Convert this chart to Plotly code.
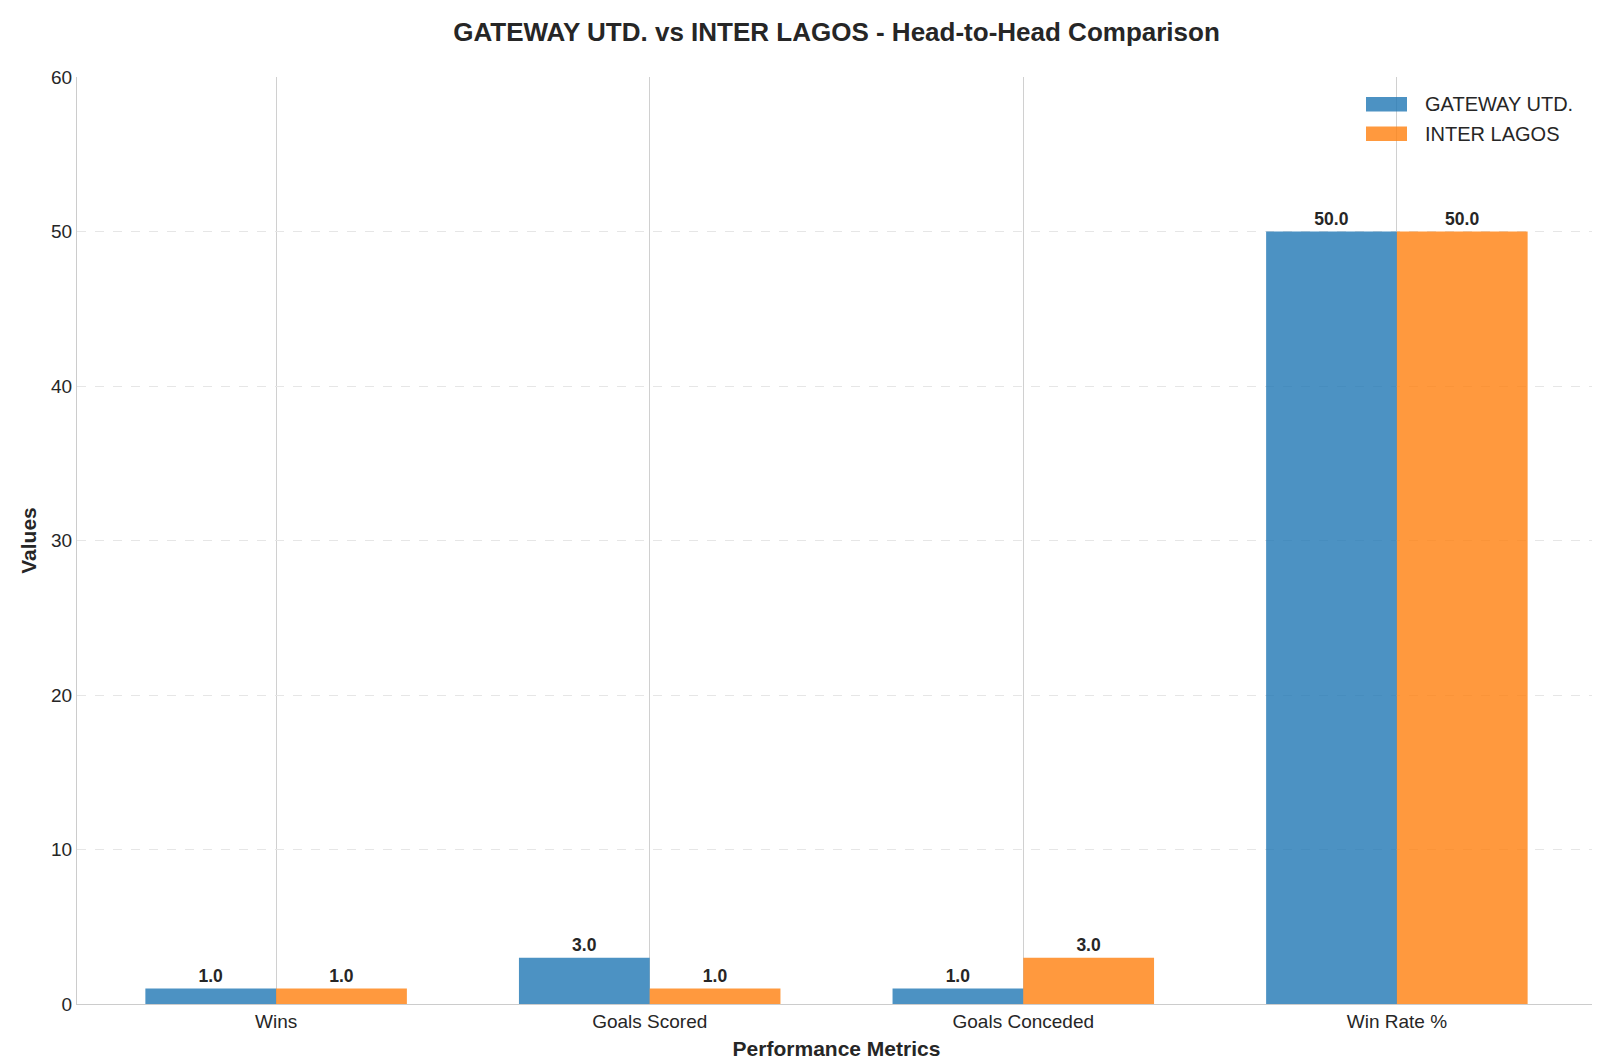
import plotly.graph_objects as go

# data
metrics = ["Wins", "Goals Scored", "Goals Conceded", "Win Rate %"]
gateway = [1.0, 3.0, 1.0, 50.0]
inter = [1.0, 1.0, 3.0, 50.0]
team_a, team_b = "GATEWAY UTD.", "INTER LAGOS"
colors = ["rgba(31,119,180,0.8)", "rgba(255,127,14,0.8)"]

FONT = "Liberation Sans, Arial, sans-serif"
BAR_W = 0.35
xs = list(range(len(metrics)))

# plot area in pixels (used to place the hand-made legend)
L, R, T, B = 69, 12, 69, 67
W, H = 1600, 1063
pw, ph = W - L - R, H - T - B

def px_x(p):
    return (p - L) / pw

def px_y(p):
    return (H - B - p) / ph

fig = go.Figure()
for vals, name, off, col in [(gateway, team_a, -BAR_W, colors[0]), (inter, team_b, 0, colors[1])]:
    fig.add_trace(go.Bar(
        x=xs, y=vals, name=name, width=BAR_W, offset=off,
        marker=dict(color=col, line=dict(width=0)),
        text=[f"{v:.1f}" for v in vals], textposition="outside",
        textfont=dict(family=FONT, size=17.5, color="#262626", weight="bold"),
        cliponaxis=False, showlegend=False,
    ))

# legend drawn by hand: wide rectangles like matplotlib
for i, (name, col) in enumerate([(team_a, colors[0]), (team_b, colors[1])]):
    y0 = 89 + i * 29.5
    fig.add_shape(type="rect", xref="paper", yref="paper",
                  x0=px_x(1358), x1=px_x(1399), y0=px_y(y0 + 14.5), y1=px_y(y0),
                  fillcolor=col, line=dict(width=0))
    fig.add_annotation(xref="paper", yref="paper", x=px_x(1415), y=px_y(y0 + 7),
                       xanchor="left", yanchor="middle", showarrow=False,
                       text=name, font=dict(size=20, color="#262626"))

fig.update_layout(
    width=W, height=H,
    paper_bgcolor="white", plot_bgcolor="white",
    font=dict(family=FONT, size=19, color="#262626"),
    margin=dict(l=L, r=R, t=T, b=B),
    title=dict(text="<b>GATEWAY UTD. vs INTER LAGOS - Head-to-Head Comparison</b>",
               x=(L + pw / 2) / W, xanchor="center", y=1 - 24 / H, yanchor="middle",
               font=dict(size=26, color="#262626")),
    barmode="overlay",
    showlegend=False,
)

fig.update_xaxes(
    range=[-0.533, 3.533], tickmode="array", tickvals=xs, ticktext=metrics,
    showgrid=True, gridcolor="#d0d0d0", gridwidth=1,
    showline=True, linecolor="#cccccc", linewidth=1.3,
    ticks="", tickfont=dict(size=19), automargin=False,
    title=dict(text="<b>Performance Metrics</b>", font=dict(size=21), standoff=10),
    zeroline=False,
)
fig.update_yaxes(
    range=[0, 60], tickmode="array", tickvals=[0, 10, 20, 30, 40, 50, 60],
    showgrid=True, gridcolor="#e6e6e6", griddash="dash", gridwidth=1,
    showline=True, linecolor="#cccccc", linewidth=1.3,
    ticks="", tickfont=dict(size=19), automargin=False,
    title=dict(text="<b>Values</b>", font=dict(size=21), standoff=8),
    zeroline=False,
)

fig.write_html("out.html")
